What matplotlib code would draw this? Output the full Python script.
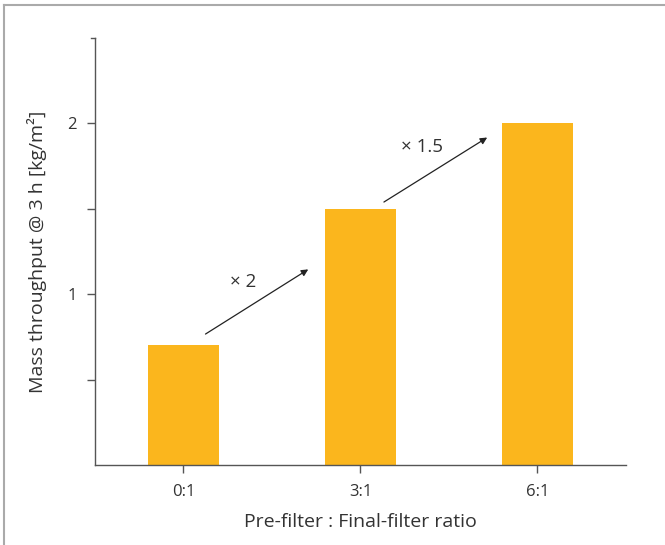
import matplotlib
matplotlib.use("Agg")
import matplotlib.pyplot as plt
from matplotlib.lines import Line2D

plt.rcParams['font.family'] = ['Open Sans', 'DejaVu Sans']

categories = ["0:1", "3:1", "6:1"]
values = [0.7, 1.5, 2.0]
major_ticks = [1, 2]
minor_ticks = [0.5, 1.5]
ratio_labels = ["\u00d7 2", "\u00d7 1.5"]

bar_color = "#FBB61D"
text_color = "#333333"
spine_color = "#555555"

fig = plt.figure(figsize=(6.65, 5.45), dpi=100)
ax = fig.add_axes([95/665, 1-465/545, 531/665, (465-38)/545])

x = list(range(len(categories)))
ax.bar(x, values, width=0.4, color=bar_color, zorder=2)

ax.set_xlim(-0.5, 2.5)
ax.set_ylim(0, 2.5)
ax.set_xticks(x)
ax.set_xticklabels(categories)
ax.set_yticks(major_ticks)
ax.set_yticklabels([str(t) for t in major_ticks])
ax.set_yticks(minor_ticks, minor=True)

for s in ["top", "right"]:
    ax.spines[s].set_visible(False)
for s in ["left", "bottom"]:
    ax.spines[s].set_color(spine_color)
    ax.spines[s].set_linewidth(1.0)

ax.tick_params(axis='both', which='both', color=spine_color, labelcolor=text_color,
               labelsize=12, length=6, width=1.0)
ax.tick_params(axis='x', pad=8)
ax.tick_params(axis='y', pad=7)

ax.set_xlabel("Pre-filter : Final-filter ratio", fontsize=14, color=text_color, labelpad=9)
ax.set_ylabel("Mass throughput @ 3 h [kg/m\u00b2]", fontsize=14, color=text_color, labelpad=15)

# top tick at the end of the y axis
ax.plot([-0.5 - 0.02, -0.5], [2.5, 2.5], color=spine_color, lw=1.0, clip_on=False, transform=ax.transData)

arrow_kw = dict(arrowstyle="-|>", color="#222222", lw=0.9, mutation_scale=10)
ax.annotate("", xy=(0.718, 1.154), xytext=(0.111, 0.758), arrowprops=arrow_kw)
ax.annotate("", xy=(1.729, 1.926), xytext=(1.119, 1.531), arrowprops=arrow_kw)

ax.text(0.339, 1.073, ratio_labels[0], ha='center', va='center', fontsize=13.5, color=text_color)
ax.text(1.35, 1.859, ratio_labels[1], ha='center', va='center', fontsize=13.5, color=text_color)

# figure border (top and left)
fig.add_artist(Line2D([4/665, 4/665], [0, 1-5/545], transform=fig.transFigure, color="#aaaaaa", lw=1.5))
fig.add_artist(Line2D([4/665, 1], [1-5/545, 1-5/545], transform=fig.transFigure, color="#aaaaaa", lw=1.5))

fig.savefig("out.png", dpi=100)
